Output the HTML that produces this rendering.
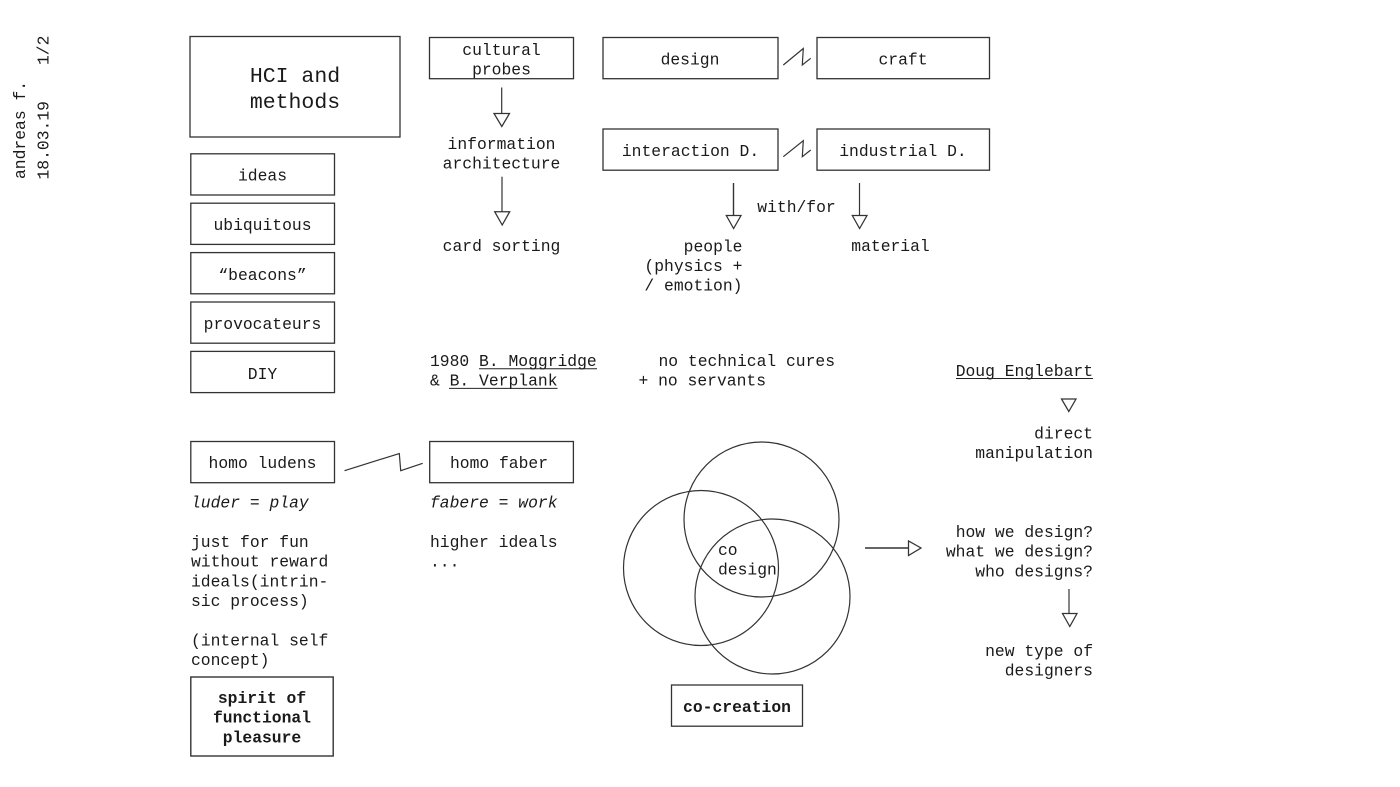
<!DOCTYPE html>
<html lang="en">
<head>
<meta charset="utf-8">
<title>HCI and methods</title>
<style>
html,body{margin:0;padding:0;background:#fff;width:1400px;height:787px;overflow:hidden}
svg{display:block}
text{font-family:"Liberation Mono",monospace;font-size:16.35px;fill:#1a1a1a;white-space:pre}
.m{text-anchor:middle}
.e{text-anchor:end}
.b{font-weight:bold}
.i{font-style:italic}
.t{font-size:21.5px}
.box{fill:#fff;stroke:#333;stroke-width:1.3}
.l{fill:none;stroke:#333;stroke-width:1.2}
.h{fill:#fff;stroke:#333;stroke-width:1.25}
.u{stroke:#222;stroke-width:1;fill:none}
</style>
</head>
<body>
<svg width="1400" height="787" viewBox="0 0 1400 787" xmlns="http://www.w3.org/2000/svg">
<rect width="1400" height="787" fill="#fff"/>

<!-- margin notes -->
<text transform="translate(25,179) rotate(-90)">andreas f.</text>
<text transform="translate(48.6,179.5) rotate(-90)">18.03.19</text>
<text transform="translate(48.6,65) rotate(-90)">1/2</text>

<!-- left column -->
<rect class="box" x="190" y="36.5" width="210" height="100.5"/>
<text class="t m" x="295" y="82">HCI and</text>
<text class="t m" x="295" y="108">methods</text>

<rect class="box" x="190.8" y="153.8" width="143.7" height="41.2"/>
<text class="m" x="262.5" y="180.5">ideas</text>
<rect class="box" x="190.8" y="203.2" width="143.7" height="41.2"/>
<text class="m" x="262.5" y="230">ubiquitous</text>
<rect class="box" x="190.8" y="252.6" width="143.7" height="41.2"/>
<text class="m" x="262.5" y="280">“beacons”</text>
<rect class="box" x="190.8" y="302" width="143.7" height="41.2"/>
<text class="m" x="262.5" y="329">provocateurs</text>
<rect class="box" x="190.8" y="351.4" width="143.7" height="41.2"/>
<text class="m" x="262.5" y="379">DIY</text>

<!-- probes column -->
<rect class="box" x="429.5" y="37.5" width="144" height="41.2"/>
<text class="m" x="501.5" y="55">cultural</text>
<text class="m" x="501.5" y="74.7">probes</text>
<path class="l" d="M501.7 87.5V114"/>
<path class="h" d="M494 113.5L509.5 113.5L501.8 126.5Z"/>
<text class="m" x="501.5" y="149">information</text>
<text class="m" x="501.5" y="168.7">architecture</text>
<path class="l" d="M502 176.7V212"/>
<path class="h" d="M494.7 211.7L509.7 211.7L502.2 225Z"/>
<text class="m" x="501.5" y="251">card sorting</text>

<!-- design row -->
<rect class="box" x="603" y="37.5" width="175" height="41.2"/>
<text class="m" x="690" y="64.5">design</text>
<rect class="box" x="817" y="37.5" width="172.5" height="41.2"/>
<text class="m" x="903" y="64.5">craft</text>
<path class="l" d="M783.3 65L803.3 48.5L802.3 65L810.7 58.3"/>

<rect class="box" x="603" y="129" width="175" height="41.2"/>
<text class="m" x="690.5" y="156">interaction D.</text>
<rect class="box" x="817" y="129" width="172.5" height="41.2"/>
<text class="m" x="903" y="156">industrial D.</text>
<path class="l" d="M783.3 156.7L803.3 140.7L802.3 156.7L810.7 150"/>

<path class="l" d="M733.5 183V216" style="stroke-width:1.4"/>
<path class="h" d="M726.3 215.5L741 215.5L733.6 228.5Z"/>
<path class="l" d="M859.5 183V216"/>
<path class="h" d="M852.3 215.5L867 215.5L859.6 228.5Z"/>
<text class="m" x="796.5" y="212">with/for</text>
<text class="e" x="742.5" y="251.5">people</text>
<text class="e" x="742.5" y="271">(physics +</text>
<text class="e" x="742.5" y="290.7">/ emotion)</text>
<text class="m" x="890.5" y="251">material</text>

<!-- mid notes -->
<text x="430" y="366">1980 B. Moggridge</text>
<path class="u" d="M479 368.7H597"/>
<text x="430" y="385.7">&amp; B. Verplank</text>
<path class="u" d="M449 388.4H557.5"/>
<text x="658.5" y="366">no technical cures</text>
<text x="638.5" y="385.7">+ no servants</text>

<text class="e" x="1093" y="376">Doug Englebart</text>
<path class="u" d="M956 378.5H1093"/>
<path class="h" d="M1061.5 399L1076 399L1068.8 411.5Z"/>
<text class="e" x="1093" y="438.5">direct</text>
<text class="e" x="1093" y="458">manipulation</text>

<!-- homo row -->
<rect class="box" x="190.8" y="441.5" width="143.7" height="41.2"/>
<text class="m" x="262.5" y="468">homo ludens</text>
<rect class="box" x="429.7" y="441.5" width="143.7" height="41.2"/>
<text class="m" x="499" y="468">homo faber</text>
<path class="l" d="M344.5 470.7L399.3 453.5L400.7 470.7L422.7 463.3"/>

<text class="i" x="191" y="507.5">luder = play</text>
<text class="i" x="430" y="507.5">fabere = work</text>
<text x="191" y="547">just for fun</text>
<text x="191" y="566.7">without reward</text>
<text x="191" y="586.4">ideals(intrin-</text>
<text x="191" y="606">sic process)</text>
<text x="191" y="645.5">(internal self</text>
<text x="191" y="665.2">concept)</text>
<text x="430" y="547">higher ideals</text>
<text x="430" y="566.7">...</text>

<rect class="box" x="190.8" y="677" width="142.4" height="79" style="stroke-width:1.4"/>
<text class="b m" x="262" y="703">spirit of</text>
<text class="b m" x="262" y="722.7">functional</text>
<text class="b m" x="262" y="742.5">pleasure</text>

<!-- venn -->
<circle class="l" cx="701" cy="568" r="77.5"/>
<circle class="l" cx="761.5" cy="519.5" r="77.5"/>
<circle class="l" cx="772.5" cy="596.5" r="77.5"/>
<text x="718" y="555">co</text>
<text x="718" y="574.5">design</text>

<rect class="box" x="671.5" y="685" width="131" height="41.2"/>
<text class="b m" x="737" y="712">co-creation</text>

<path class="l" d="M865 548H908" style="stroke-width:1.4"/>
<path class="h" d="M908.5 541L908.5 555.5L921 548Z"/>

<text class="e" x="1093" y="537">how we design?</text>
<text class="e" x="1093" y="556.7">what we design?</text>
<text class="e" x="1093" y="576.4">who designs?</text>
<path class="l" d="M1069 589V614"/>
<path class="h" d="M1062.5 613.5L1077 613.5L1069.8 626.5Z"/>
<text class="e" x="1093" y="656">new type of</text>
<text class="e" x="1093" y="675.7">designers</text>
</svg>
</body>
</html>
